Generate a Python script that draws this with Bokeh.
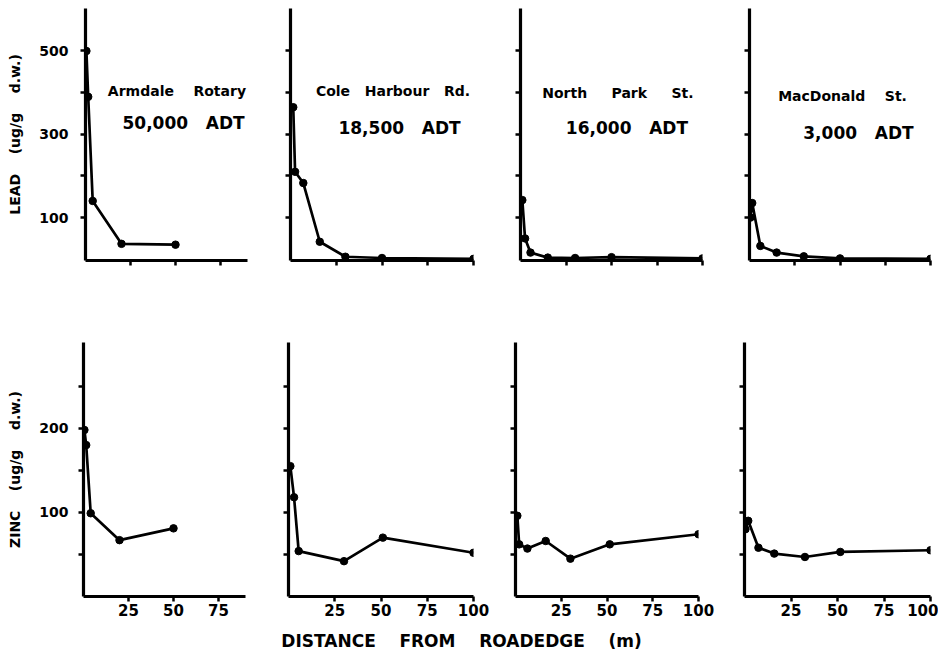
from bokeh.plotting import figure
from bokeh.layouts import column, row
from bokeh.models import FixedTicker, Label
from bokeh.embed import file_html
from bokeh.resources import INLINE

FONT = "DejaVu Sans"
NB = "\u00a0"

# ---------------- data ----------------
sites = ["Armdale Rotary", "Cole Harbour Rd.", "North Park St.", "MacDonald St."]
adt = ["50,000 ADT", "18,500 ADT", "16,000 ADT", "3,000 ADT"]

armdale_lead_x = [0.5, 1.5, 4, 20, 50]
armdale_lead = [500, 390, 140, 37, 35]
armdale_zinc_x = [0.5, 1.5, 4, 20, 50]
armdale_zinc = [198, 180, 99, 67, 81]

cole_lead_x = [1.5, 2.5, 7, 16, 30, 50, 100]
cole_lead = [365, 210, 183, 42, 6, 3, 1]
cole_zinc_x = [1, 3, 5.5, 30, 51, 100]
cole_zinc = [155, 118, 54, 42, 70, 52]

north_lead_x = [1, 2.5, 5.5, 15, 30, 50, 100]
north_lead = [142, 50, 16, 4, 3, 5, 2]
north_zinc_x = [1, 2, 6.5, 16.5, 30, 51.5, 100]
north_zinc = [96, 62, 57, 66, 45, 62, 74]

macd_lead_x = [0.5, 1.5, 6, 15, 30, 50, 100]
macd_lead = [100, 135, 32, 16, 7, 2, 1]
macd_zinc_x = [0.5, 2, 7.5, 16, 32.5, 51.5, 100]
macd_zinc = [80, 90, 58, 51, 47, 53, 55]

lead_ticks = [100, 200, 300, 400, 500]
lead_labels = [100, 300, 500]
zinc_ticks = [50, 100, 150, 200, 250]
zinc_labels = [100, 200]
x_ticks_first = [25, 50, 75]
x_ticks_other = [25, 50, 75, 100]
x_ends = [90, 100, 100, 100]

lead_series = [(armdale_lead_x, armdale_lead), (cole_lead_x, cole_lead),
               (north_lead_x, north_lead), (macd_lead_x, macd_lead)]
zinc_series = [(armdale_zinc_x, armdale_zinc), (cole_zinc_x, cole_zinc),
               (north_zinc_x, north_zinc), (macd_zinc_x, macd_zinc)]

# ---------------- layout constants ----------------
lead_frame_w = [162, 183, 182, 181]
lead_left = [85, 22, 22, 22]
lead_right = [21, 25, 25, 8]
zinc_frame_w = [162, 185, 183, 186]
zinc_left = [83, 22, 22, 22]
zinc_right = [21, 20, 24, 8]

# title positions (data coordinates inside each lead panel)
title_pos = [(50.8, 405), (56.0, 405), (53.5, 400), (51.4, 393)]
title_gap = [3, 2, 4, 3]
adt_pos = [(54.5, 326), (59.6, 316), (58.5, 314), (60.2, 304)]


def spaced(s, n=3):
    return s.replace(" ", NB * n + " ")


def style_axis(ax, size):
    ax.axis_line_width = 3.2
    ax.axis_line_color = "black"
    ax.major_tick_line_width = 2.5
    ax.major_tick_line_color = "black"
    ax.major_tick_out = 5
    ax.major_tick_in = 0
    ax.minor_tick_line_color = None
    ax.major_label_text_font = FONT
    ax.major_label_text_font_style = "bold"
    ax.major_label_text_font_size = size
    ax.major_label_text_color = "black"


def make_panel(i, xs, ys, y_range, frame_w, frame_h, left, right, top, bottom,
               y_ticks, y_shown, x_shown):
    p = figure(frame_width=frame_w, frame_height=frame_h,
               x_range=(0, x_ends[i]), y_range=y_range,
               output_backend="svg", toolbar_location=None, title=None,
               min_border_left=left, min_border_right=right,
               min_border_top=top, min_border_bottom=bottom)
    p.outline_line_color = None
    p.grid.visible = False
    p.background_fill_color = "white"
    p.border_fill_color = "white"
    xt = x_ticks_first if i == 0 else x_ticks_other
    p.xaxis.ticker = FixedTicker(ticks=xt)
    p.yaxis.ticker = FixedTicker(ticks=y_ticks)
    style_axis(p.xaxis[0], "15px")
    style_axis(p.yaxis[0], "14px")
    p.yaxis.major_label_overrides = {t: "" for t in y_ticks if t not in y_shown}
    if not x_shown:
        p.xaxis.major_label_overrides = {t: "" for t in xt}
    p.xaxis.major_label_standoff = 2
    p.yaxis.major_label_standoff = 12 if i == 0 else 0
    p.line(xs, ys, line_width=2.7, line_color="black")
    p.scatter(xs, ys, size=7.5, fill_color="black", line_color="black")
    return p


lead_figs = []
for i, (xs, ys) in enumerate(lead_series):
    p = make_panel(i, xs, ys, (-3, 602), lead_frame_w[i], 252,
                   lead_left[i], lead_right[i], 8, 30,
                   lead_ticks, lead_labels if i == 0 else [], False)
    p.add_layout(Label(x=title_pos[i][0], y=title_pos[i][1],
                       text=spaced(sites[i], title_gap[i]),
                       text_align="center", text_baseline="middle",
                       text_font=FONT, text_font_style="bold", text_font_size="14px",
                       text_color="black"))
    p.add_layout(Label(x=adt_pos[i][0], y=adt_pos[i][1], text=spaced(adt[i], 2),
                       text_align="center", text_baseline="middle",
                       text_font=FONT, text_font_style="bold", text_font_size="17px",
                       text_color="black"))
    lead_figs.append(p)

lead_figs[0].yaxis.axis_label = spaced("LEAD (ug/g d.w.)", 3)
lead_figs[0].yaxis.axis_label_standoff = 13

zinc_figs = []
for i, (xs, ys) in enumerate(zinc_series):
    p = make_panel(i, xs, ys, (0, 302), zinc_frame_w[i], 254,
                   zinc_left[i], zinc_right[i], 52, 30,
                   zinc_ticks, zinc_labels if i == 0 else [], True)
    if i == 0:
        p.yaxis.major_label_standoff = 10
    zinc_figs.append(p)

zinc_figs[0].yaxis.axis_label = spaced("ZINC (ug/g d.w.)", 3)
zinc_figs[0].yaxis.axis_label_standoff = 13

for p in (lead_figs[0], zinc_figs[0]):
    ax = p.yaxis[0]
    ax.axis_label_text_font = FONT
    ax.axis_label_text_font_style = "bold"
    ax.axis_label_text_font_size = "14px"
    ax.axis_label_text_color = "black"

# bottom strip with the shared x-axis title
px = figure(width=938, height=28, x_range=(0, 1), y_range=(0, 1),
            x_axis_type=None, y_axis_type=None, output_backend="svg",
            toolbar_location=None, title=None, min_border=0)
px.outline_line_color = None
px.add_layout(Label(x=0.4915, y=0.5, text=spaced("DISTANCE FROM ROADEDGE (m)", 3),
                    text_align="center", text_baseline="middle",
                    text_font=FONT, text_font_style="bold", text_font_size="17px",
                    text_color="black"))

layout = column(row(*lead_figs), row(*zinc_figs), px)

open("out.html", "w").write(file_html(layout, INLINE))
